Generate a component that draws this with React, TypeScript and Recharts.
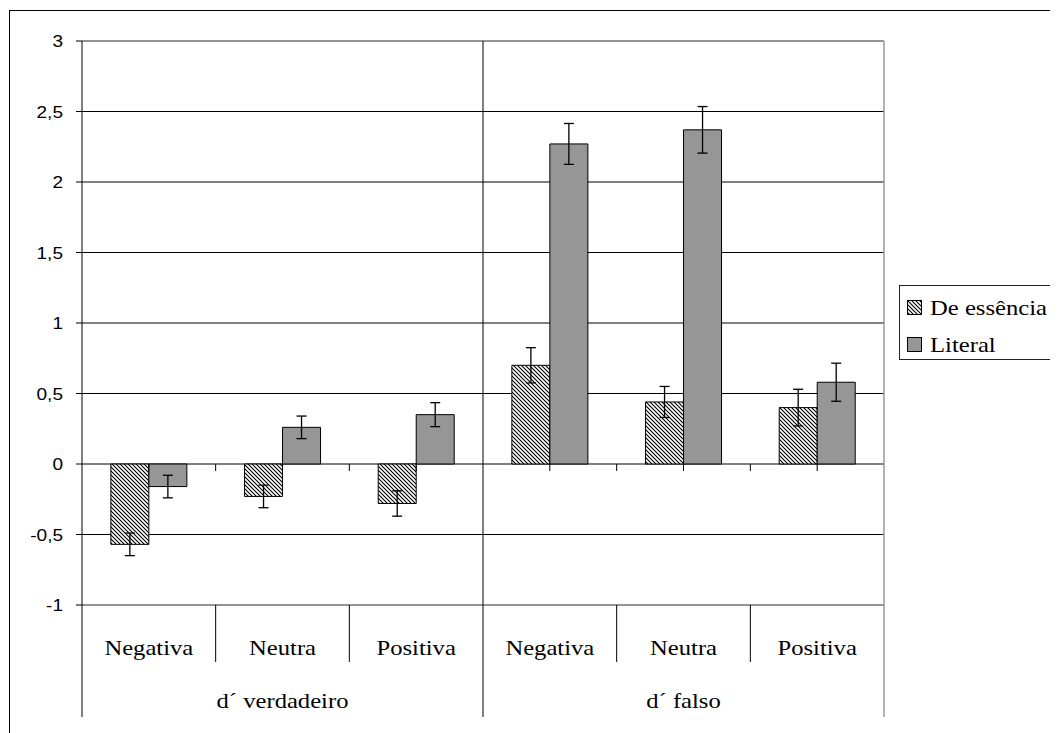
import { BarChart, Bar, XAxis, YAxis, CartesianGrid, ErrorBar, ReferenceLine } from 'recharts';

const categories = ['Negativa', 'Neutra', 'Positiva', 'Negativa', 'Neutra', 'Positiva'];
const groups = ['d´ verdadeiro', 'd´ verdadeiro', 'd´ verdadeiro', 'd´ falso', 'd´ falso', 'd´ falso'];
const essencia = [-0.57, -0.23, -0.28, 0.7, 0.44, 0.4];
const essenciaErr = [0.08, 0.08, 0.09, 0.125, 0.11, 0.13];
const literal = [-0.16, 0.26, 0.35, 2.27, 2.37, 0.58];
const literalErr = [0.08, 0.08, 0.085, 0.145, 0.165, 0.135];
const yTicks = [-1, -0.5, 0, 0.5, 1, 1.5, 2, 2.5, 3];
const seriesNames = ['De essência', 'Literal'];

const data = categories.map((name, i) => ({
  name,
  group: groups[i],
  essencia: essencia[i],
  essenciaErr: essenciaErr[i],
  literal: literal[i],
  literalErr: literalErr[i],
}));

const W = 1050;
const H = 725;
const MARGIN = { top: 33, right: 174, bottom: 98, left: 14 };
const Y_W = 60;
const Y_MIN = -1;
const Y_MAX = 3;
const PLOT_LEFT = MARGIN.left + Y_W;
const PLOT_RIGHT = W - MARGIN.right;
const PLOT_TOP = MARGIN.top;
const PLOT_BOTTOM = 597;
const BAND = (PLOT_RIGHT - PLOT_LEFT) / categories.length;
const Y_ZERO = PLOT_TOP + (Y_MAX / (Y_MAX - Y_MIN)) * (PLOT_BOTTOM - PLOT_TOP);

const GRAY = '#969696';
const BORDER = '#9a9a9a';
const SERIF = '"Liberation Serif", "Times New Roman", serif';
const SANS = '"Liberation Sans", Arial, sans-serif';

function YTick(props: any) {
  const { y, payload } = props;
  const label = String(payload.value).replace('.', ',');
  return (
    <text
      transform={`translate(55,${y}) scale(1.12,1)`}
      dy="0.36em"
      textAnchor="end"
      style={{ fontFamily: SANS, fontSize: 17 }}
      fill="#000"
    >
      {label}
    </text>
  );
}

// category labels, group labels and the Excel-style divider lines
function XTick(props: any) {
  const { x, index } = props;
  const i = index as number;
  const left = x - BAND / 2;
  const right = x + BAND / 2;
  const groupStart = i % 3 === 0;
  const showGroup = i % 3 === 1;
  const last = i === categories.length - 1;
  return (
    <g>
      <line x1={left} y1={PLOT_BOTTOM} x2={left} y2={groupStart ? 709 : 654} stroke="#000" strokeWidth={1} />
      {i === 3 && <line x1={left} y1={PLOT_TOP} x2={left} y2={PLOT_BOTTOM} stroke="#000" strokeWidth={1} />}
      {last && <line x1={right} y1={PLOT_TOP} x2={right} y2={709} stroke={BORDER} strokeWidth={1.5} />}
      {i > 0 && i !== 3 && <line x1={left} y1={Y_ZERO} x2={left} y2={Y_ZERO + 7} stroke="#000" strokeWidth={1} />}
      <line x1={x} y1={Y_ZERO} x2={x} y2={Y_ZERO + 7} stroke="#000" strokeWidth={1} />
      <text
        transform={`translate(${x},647) scale(1.12,1)`}
        textAnchor="middle"
        style={{ fontFamily: SERIF, fontSize: 22 }}
        fill="#000"
      >
        {categories[i]}
      </text>
      {showGroup && (
        <text
          transform={`translate(${x},700) scale(1.12,1)`}
          textAnchor="middle"
          style={{ fontFamily: SERIF, fontSize: 22 }}
          fill="#000"
        >
          {groups[i]}
        </text>
      )}
    </g>
  );
}

function Swatch({ fill, top }: { fill: string; top: number }) {
  return (
    <svg width={15} height={15} style={{ position: 'absolute', left: 7, top }}>
      <rect x={0.5} y={0.5} width={14} height={14} fill={fill} stroke="#000" strokeWidth={1} />
    </svg>
  );
}

export default function App() {
  return (
    <div style={{ position: 'relative', width: W, height: H, overflow: 'hidden', background: '#fff' }}>
      <svg width={0} height={0} style={{ position: 'absolute' }}>
        <defs>
          <pattern id="hatch" patternUnits="userSpaceOnUse" width={4} height={4}>
            <rect width={4} height={4} fill="#fff" />
            <path d="M0,0 L4,4 M-1,3 L1,5 M3,-1 L5,1" stroke="#000" strokeWidth={1.1} />
          </pattern>
        </defs>
      </svg>
      <div
        style={{
          position: 'absolute',
          left: 1,
          top: 2,
          width: 1200,
          height: 900,
          borderLeft: '1.5px solid #000',
          borderTop: '1.5px solid #000',
        }}
      />
      <div style={{ position: 'absolute', left: 0, top: 0 }}>
        <BarChart width={W} height={H} data={data} margin={MARGIN} barCategoryGap="21.6%" barGap={0}>
          <CartesianGrid horizontal vertical={false} stroke="#000" strokeWidth={1} strokeOpacity={1} />
          <XAxis dataKey="name" tick={<XTick />} tickLine={false} axisLine={false} interval={0} height={30} />
          <YAxis
            width={Y_W}
            domain={[Y_MIN, Y_MAX]}
            ticks={yTicks}
            interval={0}
            tick={<YTick />}
            tickSize={6}
            tickLine={{ stroke: '#000' }}
            axisLine={{ stroke: '#000' }}
          />
          <ReferenceLine y={Y_MAX} stroke={BORDER} strokeWidth={1.5} />
          <ReferenceLine y={Y_MIN} stroke={BORDER} strokeWidth={1.5} />
          <Bar dataKey="essencia" name={seriesNames[0]} fill="url(#hatch)" stroke="#000" strokeWidth={1} isAnimationActive={false}>
            <ErrorBar dataKey="essenciaErr" width={5} stroke="#000" strokeWidth={1.3} direction="y" />
          </Bar>
          <Bar dataKey="literal" name={seriesNames[1]} fill={GRAY} stroke="#000" strokeWidth={1} isAnimationActive={false}>
            <ErrorBar dataKey="literalErr" width={5} stroke="#000" strokeWidth={1.3} direction="y" />
          </Bar>
        </BarChart>
      </div>
      <div
        style={{
          position: 'absolute',
          left: 891,
          top: 277,
          width: 170,
          height: 75,
          border: '1px solid #222',
          background: '#fff',
          fontFamily: SERIF,
          fontSize: 22,
          color: '#000',
          boxSizing: 'border-box',
        }}
      >
        {seriesNames.map((s, i) => (
          <div key={s}>
            <Swatch fill={i === 0 ? 'url(#hatch)' : GRAY} top={14 + i * 37} />
            <span
              style={{
                position: 'absolute',
                left: 30,
                top: 10.5 + i * 37.5,
                lineHeight: '22px',
                whiteSpace: 'nowrap',
                transform: 'scaleX(1.12)',
                transformOrigin: 'left center',
              }}
            >
              {s}
            </span>
          </div>
        ))}
      </div>
    </div>
  );
}
